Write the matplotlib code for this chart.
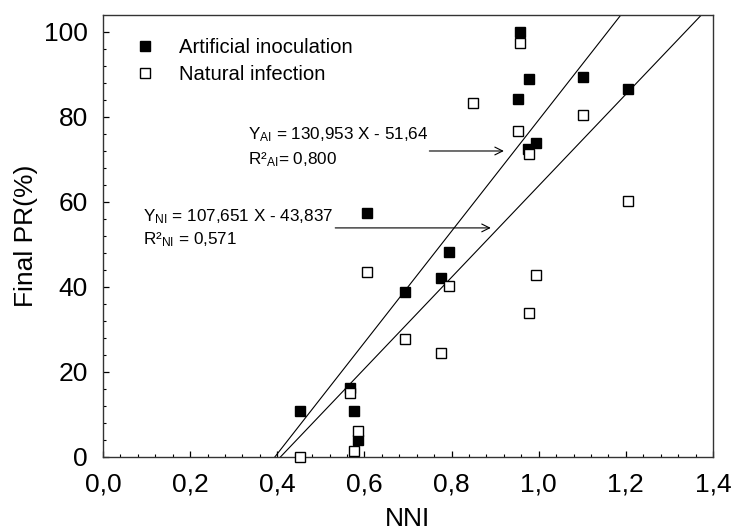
import numpy as np
from matplotlib import pyplot as plt

plt.rcParams['font.family'] = ['Liberation Sans', 'DejaVu Sans']
plt.rcParams['mathtext.fontset'] = 'custom'
plt.rcParams['mathtext.rm'] = 'Liberation Sans'
plt.rcParams['mathtext.it'] = 'Liberation Sans:italic'

# Artificial inoculation (filled squares)
nni_ai = [0.453, 0.566, 0.575, 0.586, 0.605, 0.692, 0.775, 0.795,
          0.952, 0.956, 0.977, 0.975, 0.993, 1.101, 1.205]
pr_ai = [10.8, 16.3, 10.8, 4.0, 57.4, 38.8, 42.1, 48.2,
         84.2, 100.0, 88.9, 72.4, 73.9, 89.4, 86.6]

# Natural infection (open squares)
nni_ni = [0.453, 0.566, 0.575, 0.586, 0.605, 0.692, 0.775, 0.795,
          0.849, 0.952, 0.956, 0.977, 0.977, 0.993, 1.101, 1.205]
pr_ni = [0.0, 15.1, 1.4, 6.1, 43.5, 27.8, 24.5, 40.2,
         83.3, 76.7, 97.4, 71.3, 33.9, 42.8, 80.5, 60.2]

# regression coefficients (slope, intercept)
fit_ai = (130.953, -51.64)
fit_ni = (107.651, -43.837)

fig = plt.figure(figsize=(7.34, 5.28), dpi=100)
ax = fig.add_axes([0.1403, 0.1345, 0.8311, 0.8371])

ax.plot(nni_ai, pr_ai, 's', color='black', markersize=7.2, markeredgewidth=1,
        label='Artificial inoculation', clip_on=False, zorder=3)
ax.plot(nni_ni, pr_ni, 's', markerfacecolor='white', markeredgecolor='black',
        markersize=7.2, markeredgewidth=1, label='Natural infection',
        clip_on=False, zorder=3)

xs = np.array([0.0, 1.5])
for slope, icpt in (fit_ai, fit_ni):
    ax.plot(xs, slope * xs + icpt, color='black', linewidth=0.8, zorder=2)

ax.set_xlim(0, 1.4)
ax.set_ylim(0, 104)
ax.set_xticks(np.arange(0, 1.41, 0.2))
ax.set_xticklabels([f"{v:.1f}".replace('.', ',') for v in np.arange(0, 1.41, 0.2)])
ax.set_xticks(np.arange(0, 1.41, 0.04), minor=True)
ax.set_yticks(np.arange(0, 101, 20))
ax.set_yticks(np.arange(0, 104, 4), minor=True)

ax.tick_params(which='both', direction='in', labelsize=19, top=False, right=False)
ax.tick_params(which='major', length=4.3, width=0.9)
ax.tick_params(which='minor', length=2.2, width=0.8)
ax.tick_params(axis='x', pad=11.5)
ax.tick_params(axis='y', pad=11)
for sp in ax.spines.values():
    sp.set_linewidth(1.0)
    sp.set_color('#333333')

ax.set_xlabel('NNI', fontsize=19, labelpad=7)
ax.set_ylabel('Final PR(%)', fontsize=19, labelpad=4)

# equation annotations
ax.text(0.333, 75.8, r'Y$_{\rm AI}$ = 130,953 X - 51,64', fontsize=12.3, va='center', ha='left')
ax.text(0.333, 70.0, r'R²$_{\rm AI}$= 0,800', fontsize=12.3, va='center', ha='left')
ax.annotate('', xy=(0.920, 72.0), xytext=(0.749, 72.0),
            arrowprops=dict(arrowstyle='->', color='black', lw=0.8,
                            mutation_scale=14, shrinkA=0, shrinkB=0))

ax.text(0.092, 56.5, r'Y$_{\rm NI}$ = 107,651 X - 43,837', fontsize=12.3, va='center', ha='left')
ax.text(0.092, 51.2, r'R²$_{\rm NI}$ = 0,571', fontsize=12.3, va='center', ha='left')
ax.annotate('', xy=(0.890, 53.9), xytext=(0.533, 53.9),
            arrowprops=dict(arrowstyle='->', color='black', lw=0.8,
                            mutation_scale=14, shrinkA=0, shrinkB=0))

ax.legend(loc='upper left', bbox_to_anchor=(0.052, 0.948), frameon=False,
          fontsize=14.6, handlelength=1.0, handletextpad=1.2, borderpad=0,
          labelspacing=0.42, borderaxespad=0)

fig.savefig('out.png', dpi=100)
